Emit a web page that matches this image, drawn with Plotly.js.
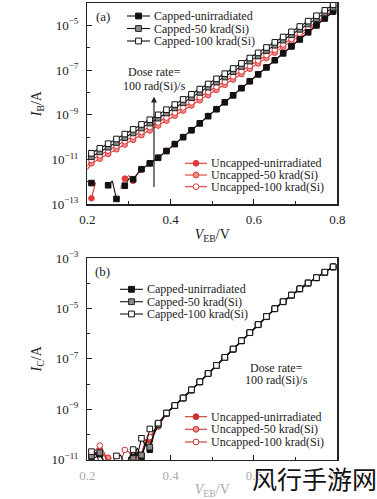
<!DOCTYPE html>
<html><head><meta charset="utf-8">
<script src="https://cdn.plot.ly/plotly-3.0.1.min.js"></script>
<style>html,body{margin:0;padding:0;background:#fff;}#chart{width:377px;height:499px;}</style>
</head><body><div id="chart"></div>
<script>
// ---------- DATA (log10 of current in A) ----------
// Panel (a): base current I_B vs V_EB
const vA = [0.21,0.23,0.25,0.27,0.29,0.31,0.33,0.35,0.37,0.39,0.41,0.43,0.45,0.47,0.49,0.51,0.53,0.55,0.57,0.59,0.61,0.63,0.65,0.67,0.69,0.71,0.73,0.75,0.77,0.79];
const ibCapped100 = [-10.72,-10.50,-10.29,-10.08,-9.86,-9.65,-9.43,-9.22,-9.00,-8.77,-8.54,-8.31,-8.08,-7.85,-7.62,-7.39,-7.16,-6.93,-6.70,-6.46,-6.23,-5.99,-5.76,-5.52,-5.29,-5.05,-4.81,-4.57,-4.33,-4.08];
const ibCapped50 = [-10.87,-10.66,-10.45,-10.24,-10.02,-9.81,-9.59,-9.37,-9.15,-8.92,-8.69,-8.46,-8.23,-8.00,-7.77,-7.54,-7.31,-7.07,-6.84,-6.60,-6.37,-6.13,-5.89,-5.66,-5.42,-5.18,-4.94,-4.70,-4.45,-4.20];
const vAuncap = [0.20,0.21,0.23,0.25,0.27,0.29,0.31,0.33,0.35,0.37,0.39,0.41,0.43,0.45,0.47,0.49,0.51,0.53,0.55,0.57,0.59,0.61,0.63,0.65,0.67,0.69,0.71,0.73,0.75,0.77,0.79];
const ibUncapped100 = [-11.30,-11.02,-10.81,-10.60,-10.39,-10.18,-9.97,-9.76,-9.55,-9.34,-9.12,-8.90,-8.67,-8.44,-8.21,-7.98,-7.75,-7.52,-7.28,-7.05,-6.81,-6.57,-6.33,-6.09,-5.85,-5.61,-5.36,-5.11,-4.86,-4.60,-4.32];
const ibUncapped50 = [-11.45,-11.17,-10.96,-10.75,-10.54,-10.33,-10.12,-9.91,-9.70,-9.48,-9.26,-9.04,-8.81,-8.58,-8.35,-8.12,-7.89,-7.66,-7.42,-7.18,-6.94,-6.70,-6.46,-6.22,-5.97,-5.72,-5.47,-5.22,-4.96,-4.70,-4.40];
const vAcapUnirr = [0.21,0.23,0.25,0.26,0.27,0.28,0.29,0.30,0.31,0.33,0.35,0.37,0.39,0.41,0.43,0.45,0.47,0.49,0.51,0.53,0.55,0.57,0.59,0.61,0.63,0.65,0.67,0.69,0.71,0.73,0.75,0.77,0.79];
const ibCappedUnirr = [-12.05,null,-12.15,-11.95,-12.76,null,-12.17,-11.85,-11.88,-11.43,-11.17,-10.92,-10.62,-10.31,-10.00,-9.69,-9.38,-9.06,-8.75,-8.44,-8.13,-7.81,-7.50,-7.19,-6.88,-6.56,-6.25,-5.94,-5.63,-5.31,-5.00,-4.69,-4.38];
const vAuncapUnirr = [0.21,0.22,0.23,0.28,0.29,0.30,0.31,0.32,0.33,0.35,0.37,0.39,0.41,0.43,0.45,0.47,0.49,0.51,0.53,0.55,0.57,0.59,0.61,0.63,0.65,0.67,0.69,0.71,0.73,0.75,0.77,0.79];
const ibUncappedUnirr = [-12.73,-12.02,null,-12.30,-11.85,-11.72,-11.95,-11.62,-11.45,-11.16,-10.91,-10.61,-10.30,-9.99,-9.68,-9.37,-9.05,-8.74,-8.43,-8.12,-7.80,-7.49,-7.18,-6.87,-6.55,-6.24,-5.93,-5.62,-5.30,-4.99,-4.68,-4.37];

// Panel (b): collector current I_C vs V_EB
const vBcap100 = [0.21,0.22,0.23,0.26,0.27,0.28,0.29,0.30,0.31,0.32,0.33,0.34,0.35,0.36,0.37,0.39,0.41,0.43,0.45,0.47,0.49,0.51,0.53,0.55,0.57,0.59,0.61,0.63,0.65,0.67,0.69,0.71,0.73,0.75,0.77,0.79];
const icCapped100 = [-10.68,-10.72,-11.15,-11.15,-10.85,-10.82,-11.20,-10.95,-10.60,-10.85,-10.15,-10.45,-9.78,-9.85,-9.55,-9.15,-8.85,-8.55,-8.23,-7.91,-7.58,-7.26,-6.94,-6.61,-6.28,-5.96,-5.64,-5.32,-5.01,-4.73,-4.47,-4.22,-3.99,-3.78,-3.56,-3.35];
const vBcapUnirr = [0.21,0.22,0.23,0.24,0.30,0.31,0.32,0.33,0.34,0.35,0.36,0.37,0.39,0.41,0.43,0.45,0.47,0.49,0.51,0.53,0.55,0.57,0.59,0.61,0.63,0.65,0.67,0.69,0.71,0.73,0.75,0.77,0.79];
const icCappedUnirr = [-10.95,-10.90,-10.78,-11.10,-11.10,-10.90,-10.55,-10.88,-10.40,-10.60,-10.00,-9.60,-9.16,-8.86,-8.55,-8.24,-7.92,-7.58,-7.27,-6.94,-6.62,-6.29,-5.96,-5.65,-5.33,-5.01,-4.74,-4.47,-4.23,-3.99,-3.79,-3.57,-3.36];
const vBcap50 = [0.21,0.22,0.23,0.24,0.30,0.31,0.32,0.33,0.34,0.35,0.36,0.37,0.39,0.41,0.43,0.45,0.47,0.49,0.51,0.53,0.55,0.57,0.59,0.61,0.63,0.65,0.67,0.69,0.71,0.73,0.75,0.77,0.79];
const icCapped50 = [-10.85,-10.80,-10.72,-11.05,-11.10,-10.95,-10.70,-10.82,-10.35,-10.50,-9.95,-9.62,-9.15,-8.85,-8.56,-8.23,-7.91,-7.59,-7.26,-6.95,-6.61,-6.28,-5.96,-5.64,-5.32,-5.02,-4.73,-4.48,-4.22,-4.00,-3.78,-3.57,-3.35];
const vBuncapUnirr = [0.21,0.22,0.23,0.24,0.25,0.26,0.30,0.31,0.32,0.33,0.34,0.35,0.36,0.37,0.39,0.41,0.43,0.45,0.47,0.49,0.51,0.53,0.55,0.57,0.59,0.61,0.63,0.65,0.67,0.69,0.71,0.73,0.75,0.77,0.79];
const icUncappedUnirr = [-10.90,-10.75,-10.60,-10.85,-10.95,-11.10,-11.05,-10.75,-10.90,-11.00,-10.25,-10.25,-9.95,-9.66,-9.17,-8.86,-8.56,-8.24,-7.92,-7.59,-7.27,-6.95,-6.62,-6.29,-5.97,-5.65,-5.33,-5.02,-4.74,-4.48,-4.23,-4.00,-3.79,-3.57,-3.36];
const vBuncap50 = [0.22,0.23,0.24,0.25,0.26,0.30,0.31,0.32,0.33,0.34,0.35,0.36,0.37,0.39,0.41,0.43,0.45,0.47,0.49,0.51,0.53,0.55,0.57,0.59,0.61,0.63,0.65,0.67,0.69,0.71,0.73,0.75,0.77,0.79];
const icUncapped50 = [-10.85,-10.70,-10.80,-10.92,-11.10,-11.10,-10.70,-10.85,-10.80,-10.20,-10.15,-9.90,-9.68,-9.16,-8.85,-8.55,-8.24,-7.91,-7.59,-7.26,-6.94,-6.62,-6.28,-5.96,-5.64,-5.33,-5.01,-4.73,-4.47,-4.22,-3.99,-3.78,-3.56,-3.35];
const vBuncap100 = [0.21,0.22,0.23,0.24,0.25,0.28,0.29,0.30,0.31,0.32,0.33,0.34,0.35,0.36,0.37,0.39,0.41,0.43,0.45,0.47,0.49,0.51,0.53,0.55,0.57,0.59,0.61,0.63,0.65,0.67,0.69,0.71,0.73,0.75,0.77,0.79];
const icUncapped100 = [-10.80,-10.60,-10.44,-10.70,-11.10,-11.10,-10.61,-10.70,-10.90,-11.00,-10.85,-10.30,-10.10,-9.90,-9.67,-9.15,-8.85,-8.55,-8.23,-7.91,-7.58,-7.26,-6.94,-6.61,-6.28,-5.96,-5.64,-5.32,-5.01,-4.73,-4.47,-4.22,-3.99,-3.78,-3.56,-3.35];

const seriesNames = ['Capped-unirradiated','Capped-50 krad(Si)','Capped-100 krad(Si)','Uncapped-unirradiated','Uncapped-50 krad(Si)','Uncapped-100 krad(Si)'];
const xTickVals = [0.2,0.4,0.6,0.8];
const xTickText = ['0.2','0.4','0.6','0.8'];
const yTickExpA = [-13,-11,-9,-7,-5];
const yTickExpB = [-11,-9,-7,-5,-3];

// ---------- STYLE ----------
const W = 377, H = 499;
const FONT = 'Liberation Serif, DejaVu Serif, serif';
const RED_A = '#e23a3a', RED_B = '#c8352f';
function styles(red){
  return [
    {symbol:'square', fill:'#111', edge:'#111', line:'#111'},
    {symbol:'square', fill:'#8a8a8a', edge:'#222', line:'#111'},
    {symbol:'square', fill:'#ffffff', edge:'#111', line:'#111'},
    {symbol:'circle', fill:red, edge:red, line:red},
    {symbol:'circle', fill:'#ec8f8f', edge:red, line:red},
    {symbol:'circle', fill:'#ffffff', edge:red, line:red}
  ];
}
const toA = a => a.map(v => v === null ? null : Math.pow(10, v));
const markOpacity = xs => xs.map(x => (Math.round(x*100) % 2 === 1) ? 1 : 0);

function trace(xs, ys, st, xa, ya, name){
  return {type:'scatter', mode:'lines+markers', name:name, x:xs, y:toA(ys), xaxis:xa, yaxis:ya,
    showlegend:false, connectgaps:false,
    line:{color:st.line, width:1.1},
    marker:{symbol:st.symbol, size:5.6, color:st.fill, opacity:markOpacity(xs), line:{color:st.edge, width:1}}};
}
const sA = styles(RED_A), sB = styles(RED_B);
const data = [
  trace(vAuncap, ibUncapped50, sA[4], 'x', 'y', seriesNames[4]),
  trace(vAuncap, ibUncapped100, sA[5], 'x', 'y', seriesNames[5]),
  trace(vAuncapUnirr, ibUncappedUnirr, sA[3], 'x', 'y', seriesNames[3]),
  trace(vAcapUnirr, ibCappedUnirr, sA[0], 'x', 'y', seriesNames[0]),
  trace(vA, ibCapped50, sA[1], 'x', 'y', seriesNames[1]),
  trace(vA, ibCapped100, sA[2], 'x', 'y', seriesNames[2]),
  trace(vBuncapUnirr, icUncappedUnirr, sB[3], 'x2', 'y2', seriesNames[3]),
  trace(vBuncap50, icUncapped50, sB[4], 'x2', 'y2', seriesNames[4]),
  trace(vBuncap100, icUncapped100, sB[5], 'x2', 'y2', seriesNames[5]),
  trace(vBcapUnirr, icCappedUnirr, sB[0], 'x2', 'y2', seriesNames[0]),
  trace(vBcap50, icCapped50, sB[1], 'x2', 'y2', seriesNames[1]),
  trace(vBcap100, icCapped100, sB[2], 'x2', 'y2', seriesNames[2])
];

const px = p => p / W, py = p => 1 - p / H;
const supLabel = e => '10<sup>\u2212' + Math.abs(e) + '</sup>';

function xAxis(anchor, labelColor){
  return {domain:[px(87.3), px(337.3)], range:[0.2,0.8], anchor:anchor,
    tickmode:'array', tickvals:xTickVals, ticktext:xTickText,
    ticks:'inside', ticklen:5, tickwidth:1, tickcolor:'#222',
    minor:{tickmode:'array', tickvals:[0.3,0.5,0.7], ticks:'inside', ticklen:3, tickcolor:'#222'},
    showline:true, mirror:true, linecolor:'#222', linewidth:1.3,
    showgrid:false, zeroline:false, ticklabelstandoff:3,
    tickfont:{family:FONT, size:13, color:labelColor},
    title:{text:'<i>V</i><sub>EB</sub>/V', font:{family:FONT, size:14, color:labelColor}, standoff:3}};
}
function yAxis(anchor, dom, rng, tickExp, title){
  const minorVals = [];
  for (let e = rng[0]+1; e <= rng[1]; e += 2) minorVals.push(Math.pow(10, e));
  return {type:'log', domain:dom, range:rng, anchor:anchor,
    tickmode:'array', tickvals:tickExp.map(e => Math.pow(10, e)), ticktext:tickExp.map(supLabel),
    ticks:'inside', ticklen:5, tickwidth:1, tickcolor:'#222',
    minor:{tickmode:'array', tickvals:minorVals, ticks:'inside', ticklen:3, tickcolor:'#222'},
    showline:true, mirror:true, linecolor:'#222', linewidth:1.3,
    showgrid:false, zeroline:false, ticklabelstandoff:5,
    tickfont:{family:FONT, size:13, color:'#222'},
    title:{text:title, font:{family:FONT, size:14, color:'#222'}, standoff:6}};
}

// ---------- manual legends ----------
const shapes = [], annotations = [];
function legend(idxs, st, lineX0, lineX1, textX, rowY){
  idxs.forEach((k, i) => {
    const y = rowY[i], cx = (lineX0 + lineX1) / 2, r = 2.9;
    shapes.push({type:'line', xref:'paper', yref:'paper', x0:px(lineX0), x1:px(lineX1), y0:py(y), y1:py(y), line:{color:st[k].line, width:1.1}});
    shapes.push({type: st[k].symbol === 'square' ? 'rect' : 'circle', xref:'paper', yref:'paper',
      x0:px(cx - r), x1:px(cx + r), y0:py(y + r), y1:py(y - r), fillcolor:st[k].fill, line:{color:st[k].edge, width:1}});
    annotations.push({xref:'paper', yref:'paper', x:px(textX), y:py(y), xanchor:'left', yanchor:'middle',
      text:seriesNames[k], showarrow:false, font:{family:FONT, size:12, color:'#222'}});
  });
}
legend([0,1,2], sA, 127, 150, 152, [16, 28.5, 41]);
legend([3,4,5], sA, 185, 207, 209, [163.3, 175, 186.7]);
legend([0,1,2], sB, 120, 143, 145, [289.3, 301.7, 314]);
legend([3,4,5], sB, 185, 207, 209, [416.7, 429.3, 442]);

const txt = (x, y, t, size, extra) => Object.assign({xref:'paper', yref:'paper', x:px(x), y:py(y), text:t,
  showarrow:false, xanchor:'center', yanchor:'middle', font:{family:FONT, size:size, color:'#222'}}, extra || {});
annotations.push(txt(103, 16, '(a)', 13));
annotations.push(txt(102, 271.5, '(b)', 13));
annotations.push(txt(154, 72, 'Dose rate=', 12));
annotations.push(txt(154, 86, '100 rad(Si)/s', 12));
annotations.push(txt(276, 367.5, 'Dose rate=', 12));
annotations.push(txt(276, 380, '100 rad(Si)/s', 12));
const arrowV = 0.36;
annotations.push({xref:'x', yref:'paper', x:arrowV, y:py(96.5), text:'', showarrow:true, axref:'pixel', ayref:'pixel', ax:0, ay:92,
  arrowhead:2, arrowsize:1, arrowwidth:1.2, arrowcolor:'#222'});
annotations.push(txt(314, 478, '风行手游网', 25, {font:{family:'Noto Sans CJK SC', size:25, color:'#111'}}));

const layout = {
  width:W, height:H, margin:{l:0, r:0, t:0, b:0},
  paper_bgcolor:'#fff', plot_bgcolor:'#fff', showlegend:false,
  xaxis: xAxis('y', '#222'),
  yaxis: yAxis('x', [py(204.3), py(3)], [-13, -4], yTickExpA, '<i>I</i><sub>B</sub>/A'),
  xaxis2: xAxis('y2', '#aaa'),
  yaxis2: yAxis('x2', [py(459.7), py(258)], [-11, -3], yTickExpB, '<i>I</i><sub>C</sub>/A'),
  shapes:shapes, annotations:annotations
};
Plotly.newPlot('chart', data, layout, {displayModeBar:false, staticPlot:true});
</script></body></html>
